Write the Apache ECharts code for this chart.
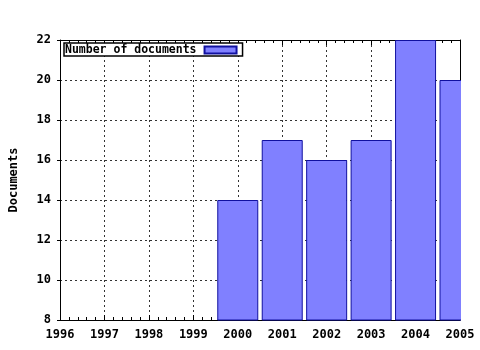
<!DOCTYPE html>
<html><head><meta charset="utf-8">
<script src="https://cdn.jsdelivr.net/npm/echarts@6/dist/echarts.min.js"></script>
<style>html,body{margin:0;padding:0;background:#fff}#c{width:480px;height:350px}</style>
</head><body><div id="c"></div>
<script>
const years = [2000, 2001, 2002, 2003, 2004, 2005];
const documents = [14, 17, 16, 17, 22, 20];
const xTickMin = 1996, xTickMax = 2005, xTickStep = 1;
const yTickMin = 8, yTickMax = 22, yTickStep = 2;
const seriesName = 'Number of documents';
const yTitle = 'Documents';

const font = 'DejaVu Sans Mono';
const chart = echarts.init(document.getElementById('c'), null, {renderer: 'canvas'});
const lbl = {color: '#000', fontFamily: font, fontWeight: 'bold', fontSize: 12};
const grid = {type: [2, 3], color: '#333', width: 1};
chart.setOption({
  animation: false,
  backgroundColor: '#fff',
  grid: {left: 57, right: 20, top: 40, bottom: 30, containLabel: false},
  graphic: [{
    type: 'rect', z: 50, silent: true,
    shape: {x: 461, y: 30, width: 19, height: 294},
    style: {fill: '#fff'}
  }],
  legend: {
    left: 64, top: 43, orient: 'horizontal', align: 'right', z: 60,
    borderColor: '#000', borderWidth: 1.5, padding: [1, 5, 0, 1],
    backgroundColor: '#fff',
    itemWidth: 32, itemHeight: 7, icon: 'rect',
    textStyle: {color: '#000', fontFamily: font, fontWeight: 'bold', fontSize: 11.5, padding: [0, 3, 0, 0]},
    data: [seriesName]
  },
  xAxis: [{
    type: 'value', min: xTickMin, max: xTickMax, interval: xTickStep,
    axisLine: {show: true, lineStyle: {color: '#000', width: 1}},
    axisTick: {show: true, inside: true, length: 5, lineStyle: {color: '#000'}},
    minorTick: {show: true, splitNumber: 5, length: 3, lineStyle: {color: '#000'}},
    axisLabel: Object.assign({margin: 9, formatter: v => String(v)}, lbl),
    splitLine: {show: true, lineStyle: grid}
  }, {
    type: 'value', position: 'top', min: xTickMin, max: xTickMax, interval: xTickStep,
    axisLine: {show: true, onZero: false, lineStyle: {color: '#000', width: 1}},
    axisTick: {show: true, inside: true, length: 5, lineStyle: {color: '#000'}},
    minorTick: {show: true, splitNumber: 5, length: 3, lineStyle: {color: '#000'}},
    axisLabel: {show: false}, splitLine: {show: false}
  }],
  yAxis: [{
    type: 'value', min: yTickMin, max: yTickMax, interval: yTickStep,
    name: yTitle, nameLocation: 'middle', nameGap: 40, nameRotate: 90,
    nameTextStyle: lbl,
    axisLine: {show: true, onZero: false, lineStyle: {color: '#000', width: 1}},
    axisTick: {show: true, inside: false, length: 3, lineStyle: {color: '#000'}},
    axisLabel: Object.assign({margin: 9}, lbl),
    splitLine: {show: true, lineStyle: grid}
  }, {
    type: 'value', position: 'right', min: yTickMin, max: yTickMax, interval: yTickStep,
    axisLine: {show: true, onZero: false, lineStyle: {color: '#000', width: 1}},
    axisTick: {show: true, inside: true, length: 4, lineStyle: {color: '#000'}},
    axisLabel: {show: false}, splitLine: {show: false}
  }],
  series: [{
    name: seriesName, type: 'bar', barWidth: 41, clip: true,
    itemStyle: {color: '#8080ff', borderColor: '#1010a0', borderWidth: 1},
    data: years.map((y, i) => [y, documents[i]])
  }]
});
</script></body></html>
